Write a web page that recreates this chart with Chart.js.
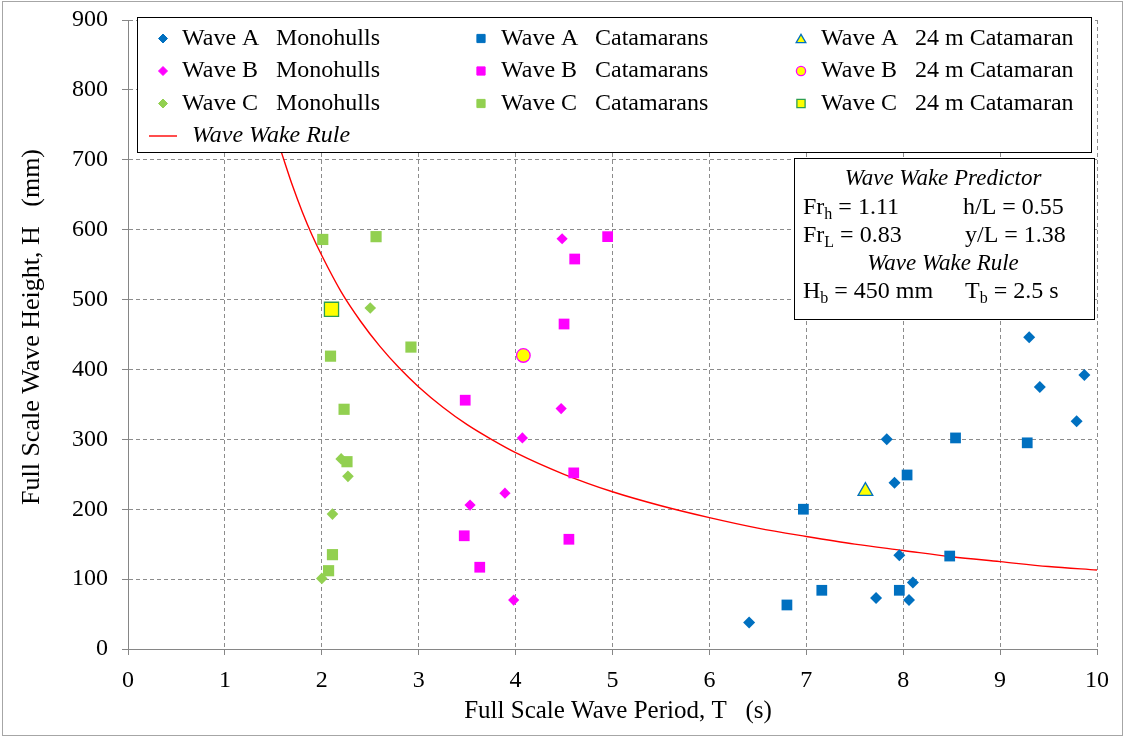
<!DOCTYPE html>
<html>
<head>
<meta charset="utf-8">
<title>Full Scale Wave Height vs Wave Period</title>
<script src="https://cdn.jsdelivr.net/npm/chart.js@4/dist/chart.umd.min.js"></script>
<style>
  html, body { margin: 0; padding: 0; background: #ffffff; }
  canvas { display: block; }
</style>
</head>
<body>
<canvas id="chart" width="1126" height="738"></canvas>
<script>
// Measured wave records: period T (s) and height H (mm)
const waveAMonoT = [9.30, 9.87, 9.41, 9.79, 7.83, 7.91, 7.96, 8.10, 7.72, 8.06, 6.41];
const waveAMonoH = [446, 392, 375, 326, 300, 238, 134, 95, 73, 70, 38];
const waveACatT  = [8.54, 9.28, 8.04, 6.97, 8.48, 7.16, 7.96, 6.80];
const waveACatH  = [302, 295, 249, 200, 133, 84, 84, 63];

const waveBMonoT = [4.48, 4.47, 4.07, 3.89, 3.53, 3.98];
const waveBMonoH = [587, 344, 302, 223, 206, 70];
const waveBCatT  = [4.95, 4.61, 4.50, 3.48, 4.60, 3.47, 4.55, 3.63];
const waveBCatH  = [590, 558, 465, 356, 252, 162, 157, 117];

const waveCMonoT = [2.50, 2.20, 2.27, 2.11, 2.00];
const waveCMonoH = [488, 272, 247, 193, 101];
const waveCCatT  = [2.01, 2.56, 2.09, 2.92, 2.23, 2.26, 2.11, 2.07];
const waveCCatH  = [586, 590, 419, 432, 343, 268, 135, 112];

// 24 m catamaran, one record per wave
const cat24T = [7.61, 4.08, 2.10];
const cat24H = [226, 420, 486];

// Wave Wake Rule curve (Hb = 450 mm, Tb = 2.5 s)
const ruleT = [1.58, 1.7, 1.8, 1.9, 2.0, 2.2, 2.4, 2.6, 2.8, 3.0, 3.25, 3.5, 3.75, 4.0, 4.5, 5.0, 5.5, 6.0, 6.5, 7.0, 7.5, 8.0, 8.5, 9.0, 9.5, 10.0];
const ruleH = [712, 662, 625, 592, 563, 511, 469, 433, 402, 375, 346, 321, 300, 281, 250, 225, 205, 188, 173, 161, 150, 141, 132, 125, 118, 113];

// Axis ticks
const xTicks = [0, 1, 2, 3, 4, 5, 6, 7, 8, 9, 10];
const yTicks = [0, 100, 200, 300, 400, 500, 600, 700, 800, 900];

// Legend labels and notes
const labels = {
  aMono: 'Wave A\tMonohulls', aCat: 'Wave A\tCatamarans', a24: 'Wave A\t24 m Catamaran',
  bMono: 'Wave B\tMonohulls', bCat: 'Wave B\tCatamarans', b24: 'Wave B\t24 m Catamaran',
  cMono: 'Wave C\tMonohulls', cCat: 'Wave C\tCatamarans', c24: 'Wave C\t24 m Catamaran',
  rule: 'Wave Wake Rule'
};
const xTitle = 'Full Scale Wave Period, T   (s)';
const yTitle = 'Full Scale Wave Height, H   (mm)';

const BLUE = '#0070C0', MAGENTA = '#FF00FF', GREEN = '#92D050', YELLOW = '#FFFF00', DKGREEN = '#2E9E4F', RED = '#FF0000';
const SERIF = '"Liberation Serif", "Times New Roman", serif';

const pts = (xs, ys) => xs.map((x, i) => ({ x: x, y: ys[i] }));

function markerSet(key, xs, ys, style, radius, fill, stroke, bw) {
  return {
    key: key, label: labels[key], data: pts(xs, ys),
    pointStyle: style, pointRadius: radius, pointHoverRadius: radius,
    backgroundColor: fill, borderColor: stroke, pointBorderWidth: bw, borderWidth: bw,
    showLine: false
  };
}

// First dataset is drawn on top
const datasets = [
  markerSet('a24', [cat24T[0]], [cat24H[0]], 'triangle', 8.5, YELLOW, BLUE, 1.3),
  markerSet('b24', [cat24T[1]], [cat24H[1]], 'circle', 6.8, YELLOW, MAGENTA, 1.3),
  markerSet('c24', [cat24T[2]], [cat24H[2]], 'rect', 10, YELLOW, DKGREEN, 1.3),
  markerSet('aCat', waveACatT, waveACatH, 'rect', 7.6, BLUE, BLUE, 0),
  markerSet('bCat', waveBCatT, waveBCatH, 'rect', 7.6, MAGENTA, MAGENTA, 0),
  markerSet('cCat', waveCCatT, waveCCatH, 'rect', 7.9, GREEN, GREEN, 0),
  markerSet('aMono', waveAMonoT, waveAMonoH, 'rectRot', 6, BLUE, BLUE, 0),
  markerSet('bMono', waveBMonoT, waveBMonoH, 'rectRot', 5.6, MAGENTA, MAGENTA, 0),
  markerSet('cMono', waveCMonoT, waveCMonoH, 'rectRot', 5.8, GREEN, GREEN, 0),
  {
    key: 'rule', label: labels.rule, data: pts(ruleT, ruleH),
    showLine: true, borderColor: RED, backgroundColor: RED, borderWidth: 1.4,
    pointRadius: 0, pointHoverRadius: 0, cubicInterpolationMode: 'monotone'
  }
];

function drawMarker(ctx, ds, x, y, r) {
  ctx.save();
  ctx.fillStyle = ds.backgroundColor;
  ctx.strokeStyle = ds.borderColor;
  ctx.lineWidth = ds.pointBorderWidth || 0;
  ctx.beginPath();
  if (ds.pointStyle === 'rectRot') {
    ctx.moveTo(x - r, y); ctx.lineTo(x, y - r); ctx.lineTo(x + r, y); ctx.lineTo(x, y + r); ctx.closePath();
  } else if (ds.pointStyle === 'rect') {
    const s = r * Math.SQRT1_2;
    ctx.rect(x - s, y - s, 2 * s, 2 * s);
  } else if (ds.pointStyle === 'triangle') {
    for (let k = 0; k < 3; k++) {
      const a = k * 2 * Math.PI / 3;
      const px = x + Math.sin(a) * r, py = y - Math.cos(a) * r + r * 0.25;
      if (k === 0) ctx.moveTo(px, py); else ctx.lineTo(px, py);
    }
    ctx.closePath();
  } else {
    ctx.arc(x, y, r, 0, Math.PI * 2);
  }
  ctx.fill();
  if (ctx.lineWidth > 0) ctx.stroke();
  ctx.restore();
}

// Draws a run of text pieces where some pieces are subscripts
function drawRich(ctx, parts, x, y) {
  let cx = x;
  parts.forEach(p => {
    ctx.font = p.sub ? '16px ' + SERIF : '24px ' + SERIF;
    ctx.fillText(p.t, cx, p.sub ? y + 5 : y);
    cx += ctx.measureText(p.t).width;
  });
}

const decorations = {
  id: 'decorations',
  afterDraw(chart) {
    const ctx = chart.ctx;
    const byKey = {};
    chart.data.datasets.forEach(d => { byKey[d.key] = d; });

    ctx.save();
    // outer frame
    ctx.strokeStyle = '#A6A6A6';
    ctx.lineWidth = 1;
    ctx.strokeRect(2.5, 1.5, 1120, 734);

    // axis titles
    ctx.fillStyle = '#000';
    ctx.textAlign = 'center';
    ctx.textBaseline = 'alphabetic';
    ctx.font = '25px ' + SERIF;
    ctx.fillText(xTitle, 618, 718);
    ctx.save();
    ctx.font = '26px ' + SERIF;
    ctx.translate(39, 327);
    ctx.rotate(-Math.PI / 2);
    ctx.fillText(yTitle, 0, 0);
    ctx.restore();

    // legend box
    ctx.fillStyle = '#fff';
    ctx.fillRect(137, 17, 954, 135);
    ctx.strokeStyle = '#000';
    ctx.strokeRect(137.5, 17.5, 954, 135);

    const legendSize = { rectRot: 4.5, rect: 5.8, triangle: 5.6, circle: 4.6 };
    const rows = [['aMono', 'aCat', 'a24'], ['bMono', 'bCat', 'b24'], ['cMono', 'cCat', 'c24']];
    const colMarker = [163, 481, 801];
    const colText = [182, 501, 821];
    const rowY = [38.5, 71, 103.5];
    ctx.textAlign = 'left';
    ctx.textBaseline = 'middle';
    rows.forEach((row, ri) => {
      row.forEach((k, ci) => {
        const ds = byKey[k];
        drawMarker(ctx, ds, colMarker[ci], rowY[ri], legendSize[ds.pointStyle]);
        const parts = ds.label.split('\t');
        ctx.fillStyle = '#000';
        ctx.font = '24px ' + SERIF;
        ctx.fillText(parts[0], colText[ci], rowY[ri]);
        ctx.fillText(parts[1], colText[ci] + 94, rowY[ri]);
      });
    });
    // rule entry
    ctx.strokeStyle = RED;
    ctx.lineWidth = 1.4;
    ctx.beginPath();
    ctx.moveTo(149, 136); ctx.lineTo(177, 136);
    ctx.stroke();
    ctx.fillStyle = '#000';
    ctx.font = 'italic 24px ' + SERIF;
    ctx.fillText(byKey.rule.label, 192, 136);

    // notes box
    ctx.fillStyle = '#fff';
    ctx.fillRect(794, 158, 300, 161);
    ctx.strokeStyle = '#000';
    ctx.lineWidth = 1;
    ctx.strokeRect(794.5, 158.5, 300, 161);
    ctx.fillStyle = '#000';
    ctx.textBaseline = 'alphabetic';
    ctx.textAlign = 'center';
    ctx.font = 'italic 23px ' + SERIF;
    ctx.fillText('Wave Wake Predictor', 943, 185);
    ctx.fillText('Wave Wake Rule', 943, 270);
    ctx.textAlign = 'left';
    drawRich(ctx, [{ t: 'Fr' }, { t: 'h', sub: true }, { t: ' = 1.11' }], 803, 214);
    drawRich(ctx, [{ t: 'h/L = 0.55' }], 963, 214);
    drawRich(ctx, [{ t: 'Fr' }, { t: 'L', sub: true }, { t: ' = 0.83' }], 803, 242);
    drawRich(ctx, [{ t: 'y/L = 1.38' }], 965, 242);
    drawRich(ctx, [{ t: 'H' }, { t: 'b', sub: true }, { t: ' = 450 mm' }], 803, 298);
    drawRich(ctx, [{ t: 'T' }, { t: 'b', sub: true }, { t: ' = 2.5 s' }], 965, 298);
    ctx.restore();
  }
};

const gridStyle = {
  color: '#8C8C8C', lineWidth: 1, tickLength: 6, tickColor: '#868686', tickWidth: 1
};

function buildChart() {
  new Chart(document.getElementById('chart'), {
    type: 'scatter',
    data: { datasets: datasets },
    options: {
      responsive: false,
      animation: false,
      devicePixelRatio: 1,
      layout: { padding: { top: 20, right: 29, left: 0, bottom: 0 } },
      plugins: { legend: { display: false }, tooltip: { enabled: false } },
      scales: {
        x: {
          type: 'linear', min: xTicks[0], max: xTicks[xTicks.length - 1],
          afterBuildTicks: s => { s.ticks = xTicks.map(v => ({ value: v })); },
          afterFit: s => { s.height = 89; s.paddingLeft = 0; s.paddingRight = 0; },
          grid: gridStyle,
          border: { display: true, color: '#868686', width: 1, dash: [4, 3] },
          ticks: { color: '#000', font: { family: SERIF, size: 24 }, padding: 11, maxRotation: 0 }
        },
        y: {
          type: 'linear', min: yTicks[0], max: yTicks[yTicks.length - 1],
          afterBuildTicks: s => { s.ticks = yTicks.map(v => ({ value: v })); },
          afterFit: s => { s.width = 128; s.paddingTop = 0; s.paddingBottom = 0; },
          grid: gridStyle,
          border: { display: true, color: '#868686', width: 1, dash: [4, 3] },
          ticks: { color: '#000', font: { family: SERIF, size: 24 }, padding: 14 }
        }
      }
    },
    plugins: [decorations]
  });
}

const fontLoads = document.fonts && document.fonts.load
  ? Promise.all([
      document.fonts.load('24px "Liberation Serif"'),
      document.fonts.load('italic 24px "Liberation Serif"')
    ]).catch(() => null)
  : Promise.resolve();
fontLoads.then(buildChart);
</script>
</body>
</html>
